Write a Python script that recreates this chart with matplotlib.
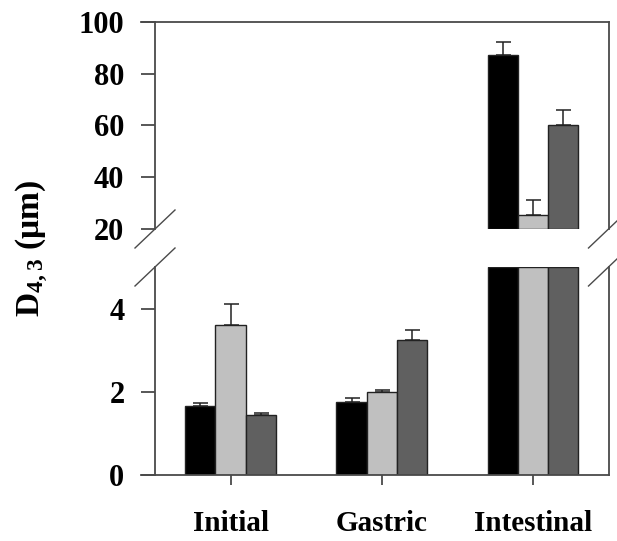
import matplotlib
matplotlib.use("Agg")
import matplotlib.pyplot as plt
import numpy as np
from matplotlib.lines import Line2D

plt.rcParams["font.family"] = "Liberation Serif"
plt.rcParams["font.weight"] = "bold"
plt.rcParams["mathtext.fontset"] = "custom"
plt.rcParams["mathtext.rm"] = "Liberation Serif:bold"
plt.rcParams["mathtext.bf"] = "Liberation Serif:bold"

# ---------------------------------------------------------------- data ------
phases = ["Initial", "Gastric", "Intestinal"]
black_vals = np.array([1.65, 1.76, 87.2])
black_err = np.array([0.07, 0.08, 4.9])
light_vals = np.array([3.61, 1.99, 25.3])
light_err = np.array([0.50, 0.06, 5.9])
dark_vals = np.array([1.45, 3.25, 60.0])
dark_err = np.array([0.05, 0.23, 5.8])

series = [(black_vals, black_err, "#000000"),
          (light_vals, light_err, "#C0C0C0"),
          (dark_vals, dark_err, "#606060")]

LOW_MAX = 5.0
HIGH_MIN, HIGH_MAX = 20.0, 100.0
SPINE = "#4a4a4a"

# ---------------------------------------------------------------- figure ----
W, H = 617, 541
fig = plt.figure(figsize=(W / 100, H / 100), dpi=100)
L, R = 155 / W, 608.5 / W
ax_hi = fig.add_axes([L, 1 - 229 / H, R - L, 207 / H])
ax_lo = fig.add_axes([L, 1 - 475 / H, R - L, 208 / H])

x = np.arange(len(phases))
bw = 0.2
for i, (vals, err, col) in enumerate(series):
    xs = x + (i - 1) * bw
    # lower panel: bars clipped at the break
    ax_lo.bar(xs, np.minimum(vals, LOW_MAX), bw, color=col, edgecolor="#222222",
              linewidth=1.0, zorder=2)
    m = vals <= LOW_MAX
    ax_lo.errorbar(xs[m], vals[m], yerr=[np.zeros(m.sum()), err[m]], fmt="none",
                   ecolor="#222222", elinewidth=1.1, capsize=5.4, capthick=1.1,
                   zorder=1)
    # upper panel: only bars that reach above the break
    h = vals > HIGH_MIN
    ax_hi.bar(xs[h], vals[h] - HIGH_MIN, bw, bottom=HIGH_MIN, color=col,
              edgecolor="#222222", linewidth=1.0, zorder=2)
    ax_hi.errorbar(xs[h], vals[h], yerr=[np.zeros(h.sum()), err[h]], fmt="none",
                   ecolor="#222222", elinewidth=1.1, capsize=5.4, capthick=1.1,
                   zorder=1)

for ax in (ax_hi, ax_lo):
    ax.set_xlim(-0.5, 2.5)
    for sp in ax.spines.values():
        sp.set_color(SPINE)
        sp.set_linewidth(1.3)
    ax.tick_params(axis="y", length=10, width=1.3, color=SPINE, labelsize=22,
                   pad=12)

ax_hi.set_ylim(HIGH_MIN, HIGH_MAX)
ax_hi.set_yticks([20, 40, 60, 80, 100])
ax_hi.spines["bottom"].set_visible(False)
ax_hi.set_xticks([])

ax_lo.set_ylim(0, LOW_MAX)
ax_lo.set_yticks([0, 2, 4])
ax_lo.spines["top"].set_visible(False)
ax_lo.set_xticks(x)
ax_lo.set_xticklabels(phases)
ax_lo.tick_params(axis="x", length=7, width=1.3, color=SPINE, labelsize=21,
                  pad=18)
# frame lines run on to the left, through the 0 and 100 ticks
ax_lo.plot([-0.5 - 14 / 151.5, -0.5], [0, 0], color=SPINE, lw=1.3,
           clip_on=False, zorder=3)
ax_hi.plot([-0.5 - 14 / 151.5, -0.5], [100, 100], color=SPINE, lw=1.3,
           clip_on=False, zorder=3)

# ---------------------------------------------------------------- breaks ----
dx, dy = 20 / W, 19 / H
for xpx in (155, 608.5):
    for ypx in (229, 267):
        xc, yc = xpx / W, 1 - ypx / H
        fig.add_artist(Line2D([xc - dx, xc + dx], [yc - dy, yc + dy],
                              color=SPINE, lw=1.0))

fig.text(32 / W, 1 - 248 / H, r"$\mathbf{D_{4,3}}$ (μm)", rotation=90,
         ha="center", va="center", fontsize=24, fontweight="bold")

fig.savefig("out.png", dpi=100)
